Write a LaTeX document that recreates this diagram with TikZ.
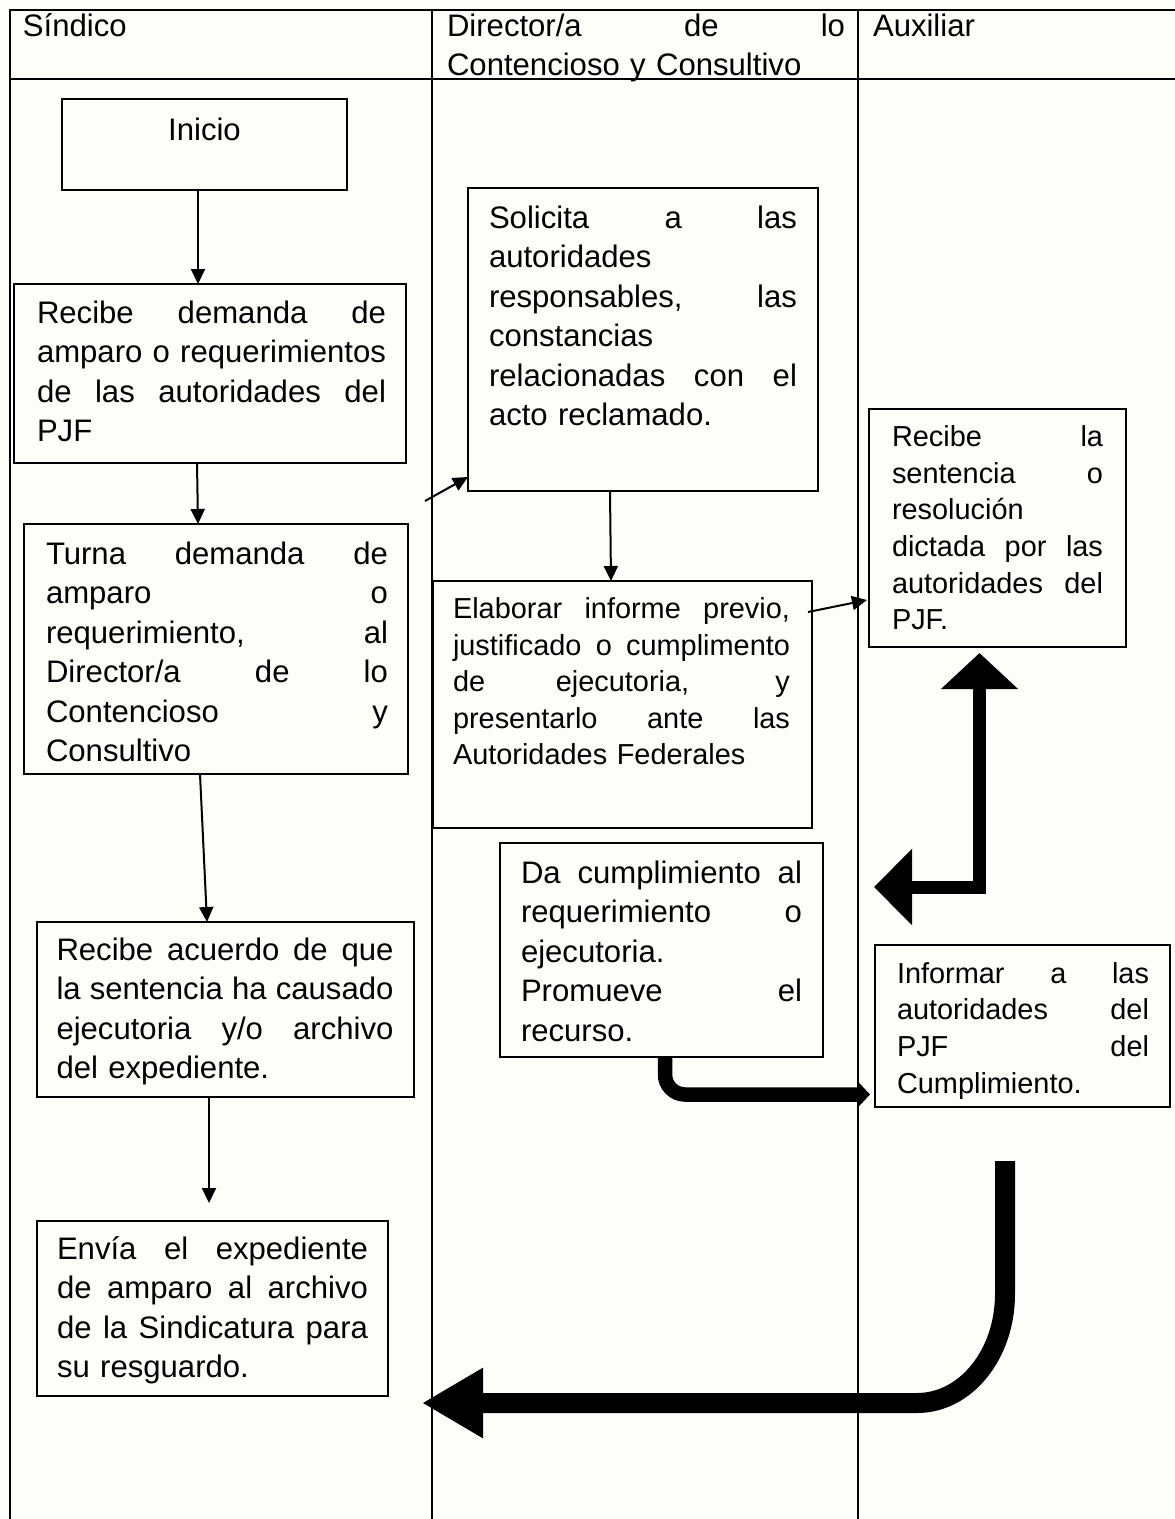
\documentclass[tikz,border=0pt]{standalone}
\usepackage{fontspec}
\setmainfont{Liberation Sans}
\usetikzlibrary{arrows.meta,calc}
\definecolor{paper}{RGB}{253,253,249}
\newlength\jw
\newcommand\fbig{\fontsize{31.1pt}{39.5pt}\selectfont}
\newcommand\fsml{\fontsize{28.9pt}{36.6pt}\selectfont}
\newcommand\jl[1]{\noindent\hbox to \jw{\spaceskip=\fontdimen2\font plus 1fil\relax #1}}
\newcommand\mkbox[5]{\node[box, minimum width={(#4)-(#2)}, minimum height={(#5)-(#3)}] (#1) at ({((#2)+(#4))/2},{((#3)+(#5))/2}) {};}
\tikzset{
  box/.style={draw=black, line width=2pt, inner sep=0pt, outer sep=0pt},
  txt/.style={inner sep=0pt, outer sep=0pt, anchor=north west, align=left},
  big/.style={font=\fbig, text width=#1, execute at begin node={\setlength\jw{#1}}},
  sml/.style={font=\fsml, text width=#1, execute at begin node={\setlength\jw{#1}}},
  arr/.style={line width=2pt, -{Triangle[length=15pt,width=14pt]}},
  rule/.style={line width=2pt},
}
\begin{document}
\begin{tikzpicture}[x=1pt,y=-1pt]
\fill[paper] (0,0) rectangle (1175,1519);
\useasboundingbox (0,0) rectangle (1175,1519);
% table
\draw[rule] (10,1519) -- (10,10) -- (1175,10);
\draw[rule] (10,79) -- (1175,79);
\draw[rule] (432,10) -- (432,1519);
\draw[rule] (858,10) -- (858,1519);
% headers
\node[txt, font=\fbig] (h1) at (23,8.35) {\strut Síndico};
\node[txt, big=398pt] (h2) at (447,8.35) {\noindent\strut\jl{Director/a de lo}\\ Contencioso y Consultivo};
\node[txt, font=\fbig] (h3) at (873,8.35) {\strut Auxiliar};
% boxes
\mkbox{b1}{62}{99}{347}{190}
\mkbox{b2}{14}{284}{406}{463}
\mkbox{b3}{24}{524}{408}{774}
\mkbox{b4}{37}{922}{414}{1097}
\mkbox{b5}{37}{1221}{388}{1396}
\mkbox{b6}{468}{188}{818}{491}
\mkbox{b7}{433}{581}{812}{828}
\mkbox{b8}{500}{843}{823}{1057}
\mkbox{b9}{869}{409}{1126}{647}
\mkbox{b10}{875}{945}{1170}{1107}
% texts
\node[anchor=base, inner sep=0pt, font=\fbig] (t1) at (204.5,140) {Inicio};
\node[txt, big=349pt] (t2) at (37,295.35) {\noindent\strut\jl{Recibe demanda de}\\ \jl{amparo o requerimientos}\\ \jl{de las autoridades del}\\ PJF};
\node[txt, big=342pt] (t3) at (46,536.35) {\noindent\strut\jl{Turna demanda de}\\ \jl{amparo o}\\ \jl{requerimiento, al}\\ \jl{Director/a de lo}\\ \jl{Contencioso y}\\ Consultivo};
\node[txt, big=337pt] (t4) at (56.5,932.35) {\noindent\strut\jl{Recibe acuerdo de que}\\ \jl{la sentencia ha causado}\\ \jl{ejecutoria y/o archivo}\\ del expediente.};
\node[txt, big=311pt] (t5) at (57,1231.35) {\noindent\strut\jl{Envía el expediente}\\ \jl{de amparo al archivo}\\ \jl{de la Sindicatura para}\\ su resguardo.};
\node[txt, big=308pt] (t6) at (489,200.35) {\noindent\strut\jl{Solicita a las}\\ autoridades\\ \jl{responsables, las}\\ constancias\\ \jl{relacionadas con el}\\ acto reclamado.};
\node[txt, sml=337pt] (t7) at (453,592.88) {\noindent\strut\jl{Elaborar informe previo,}\\ \jl{justificado o cumplimento}\\ \jl{de ejecutoria, y}\\ \jl{presentarlo ante las}\\ Autoridades Federales};
\node[txt, big=281pt] (t8) at (521,855.35) {\noindent\strut\jl{Da cumplimiento al}\\ \jl{requerimiento o}\\ ejecutoria.\\ \jl{Promueve el}\\ recurso.};
\node[txt, sml=211pt] (t9) at (892,421.08) {\noindent\strut\jl{Recibe la}\\ \jl{sentencia o}\\ resolución\\ \jl{dictada por las}\\ \jl{autoridades del}\\ PJF.};
\node[txt, sml=252pt] (t10) at (897,957.68) {\noindent\strut\jl{Informar a las}\\ \jl{autoridades del}\\ \jl{PJF del}\\ Cumplimiento.};
% thin arrows
\draw[arr] ($(b1.south)+(-6.5,0)$) -- ($(b2.north)+(-12,0)$);
\draw[arr] ($(b2.south)+(-13,0)$) -- ($(b3.north)+(-18,0)$);
\draw[arr] ($(b3.south)+(-16,0)$) -- ($(b4.north)+(-18.5,0)$);
\draw[arr] ($(b4.south)+(-16.5,0)$) -- ($(b5.north)+(-3.5,-18)$);
\draw[arr] ($(b6.south west)+(-43,10)$) -- ($(b6.south west)+(0,-14)$);
\draw[arr] ($(b6.south)+(-33,0)$) -- ($(b7.north)+(-11.5,0)$);
\draw[arr] ($(b7.east)+(-4,-92.5)$) -- ($(b9.south west)+(-2,-47)$);
% thick arrows
\draw[line width=13pt, line join=miter, {Triangle[length=38pt,width=74pt]}-{Triangle[length=36pt,width=75pt]}] ($(b8.east)+(51,-63)$) -| ($(b9.south)+(-18,6)$);
\draw[line width=14.5pt, rounded corners=20pt, -{Triangle[length=13pt,width=27pt]}] ($(b8.south)+(3.5,0)$) |- ($(b10.south west)+(-5,-12.5)$);
\coordinate (t3s) at ($(b10.south)+(-17.5,54)$);
\coordinate (t3e) at ($(b5.east)+(34,94.5)$);
\coordinate (t3c) at (t3s |- t3e);
\draw[line width=20pt, -{Triangle[length=61pt,width=66pt]}] (t3s) -- ($(t3c)+(0,-109)$) .. controls ($(t3c)+(0,-49)$) and ($(t3c)+(-39,0)$) .. ($(t3c)+(-88,0)$) -- (t3e);
\end{tikzpicture}
\end{document}
